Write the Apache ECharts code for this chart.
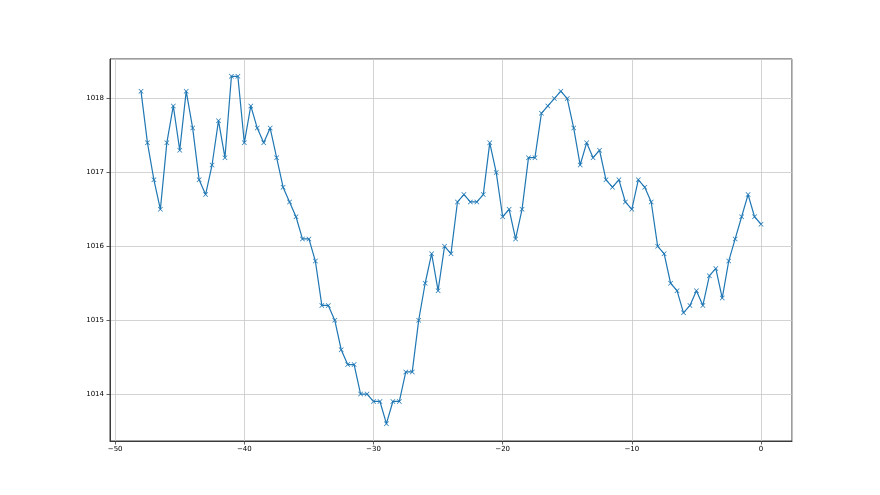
<!DOCTYPE html>
<html><head><meta charset="utf-8">
<script src="https://cdn.jsdelivr.net/npm/echarts@6/dist/echarts.min.js"></script>
<style>html,body{margin:0;padding:0;background:#fff}#c{width:880px;height:495px}</style>
</head><body><div id="c"></div>
<script>
const xStart = -48;
const xStep = 0.5;
const pressure = [
1018.1,1017.4,1016.9,1016.5,1017.4,1017.9,1017.3,1018.1,1017.6,1016.9,
1016.7,1017.1,1017.7,1017.2,1018.3,1018.3,1017.4,1017.9,1017.6,1017.4,
1017.6,1017.2,1016.8,1016.6,1016.4,1016.1,1016.1,1015.8,1015.2,1015.2,
1015.0,1014.6,1014.4,1014.4,1014.0,1014.0,1013.9,1013.9,1013.6,1013.9,
1013.9,1014.3,1014.3,1015.0,1015.5,1015.9,1015.4,1016.0,1015.9,1016.6,
1016.7,1016.6,1016.6,1016.7,1017.4,1017.0,1016.4,1016.5,1016.1,1016.5,
1017.2,1017.2,1017.8,1017.9,1018.0,1018.1,1018.0,1017.6,1017.1,1017.4,
1017.2,1017.3,1016.9,1016.8,1016.9,1016.6,1016.5,1016.9,1016.8,1016.6,
1016.0,1015.9,1015.5,1015.4,1015.1,1015.2,1015.4,1015.2,1015.6,1015.7,
1015.3,1015.8,1016.1,1016.4,1016.7,1016.4,1016.3
];
const xs = pressure.map((_, i) => xStart + i * xStep);
const data = xs.map((x, i) => [x, pressure[i]]);

const chart = echarts.init(document.getElementById('c'), null, {renderer: 'canvas'});
const lab = {fontFamily: 'DejaVu Sans', fontSize: 7, color: '#000'};
const fmt = v => String(v).replace('-', '\u2212');
const spine = '#3a3a3a';
const gridC = '#c8c8c8';
chart.setOption({
  animation: false,
  grid: {left: 110, right: 88, top: 59, bottom: 54, show: true, borderColor: spine, borderWidth: 1, backgroundColor: 'transparent'},
  xAxis: {
    type: 'value', min: -50.4, max: 2.4, splitNumber: 5,
    axisLine: {show: true, onZero: false, lineStyle: {color: spine, width: 1}},
    axisTick: {show: true, length: 3.5, lineStyle: {color: spine, width: 0.8}},
    axisLabel: Object.assign({formatter: fmt, showMinLabel: false, showMaxLabel: false, margin: 5}, lab),
    splitLine: {show: true, lineStyle: {color: gridC, width: 0.8}}
  },
  yAxis: {
    type: 'value', min: 1013.365, max: 1018.535, splitNumber: 5,
    axisLine: {show: true, onZero: false, lineStyle: {color: spine, width: 1}},
    axisTick: {show: true, length: 3.5, lineStyle: {color: spine, width: 0.8}},
    axisLabel: Object.assign({formatter: v => String(v), showMinLabel: false, showMaxLabel: false, margin: 6}, lab),
    splitLine: {show: true, lineStyle: {color: gridC, width: 0.8}}
  },
  series: [{
    type: 'line', data: data,
    symbol: 'path://M0,1L1,0L5,4L9,0L10,1L6,5L10,9L9,10L5,6L1,10L0,9L4,5Z',
    symbolSize: 5, showAllSymbol: true,
    lineStyle: {color: '#1f77b4', width: 1.2},
    itemStyle: {color: '#1f77b4'}
  }]
});
</script></body></html>
